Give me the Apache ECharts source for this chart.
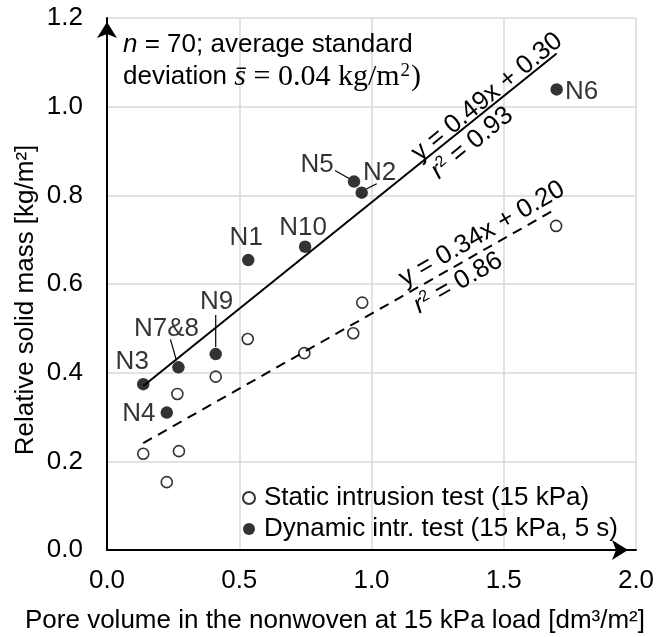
<!DOCTYPE html>
<html><head><meta charset="utf-8">
<script src="https://cdn.jsdelivr.net/npm/echarts@6/dist/echarts.min.js"></script>
<style>html,body{margin:0;padding:0;background:#fff}#c{width:665px;height:637px}</style>
</head><body><div id="c"></div>
<script>
// ---- data ----
const xTickLabels = ['0.0', '0.5', '1.0', '1.5', '2.0'];
const yTickLabels = ['0.0', '0.2', '0.4', '0.6', '0.8', '1.0', '1.2'];

const staticX = [0.137, 0.226, 0.266, 0.272, 0.411, 0.532, 0.746, 0.931, 0.965, 1.698];
const staticY = [0.217, 0.153, 0.352, 0.223, 0.391, 0.476, 0.444, 0.489, 0.558, 0.731];

const dynNames = ['N3', 'N4', 'N7&8', 'N9', 'N1', 'N10', 'N5', 'N2', 'N6'];
const dynX = [0.137, 0.226, 0.270, 0.411, 0.534, 0.749, 0.934, 0.963, 1.700];
const dynY = [0.374, 0.310, 0.412, 0.442, 0.654, 0.684, 0.831, 0.806, 1.039];

const fitDynX = [0.137, 1.700];
const fitDynY = [0.370, 1.120];
const fitStatX = [0.137, 1.700];
const fitStatY = [0.241, 0.770];

const seriesNames = ['Static intrusion test (15 kPa)', 'Dynamic intr. test (15 kPa, 5 s)'];

// ---- styling (label offsets in pixels) ----
const FONT = '"Liberation Sans", Arial, sans-serif';
const SERIF = '"Liberation Serif", "DejaVu Serif", serif';
const FS = 26;
const labelOffsets = {
  'N3': [-11, -22], 'N4': [-28, 1], 'N7&8': [-12, -39], 'N9': [1, -52],
  'N1': [-2, -22], 'N10': [-2, -19], 'N5': [-37, -17], 'N2': [18, -20], 'N6': [25, 2]
};
const leaders = {
  'N7&8': [[-8, -28], [-2, -7]],
  'N9': [[0, -39], [0, -7]],
  'N5': [[-19, -11], [-5, -3]],
  'N2': [[15, -9], [5, -4]]
};

const zip = (a, b) => a.map((v, i) => [v, b[i]]);

const chart = echarts.init(document.getElementById('c'), null, {renderer: 'canvas'});

const axisLineStyle = {color: '#000', width: 2};
const option = {
  animation: false,
  backgroundColor: '#fff',
  textStyle: {fontFamily: FONT},
  grid: {left: 107, right: 29, top: 18, bottom: 87, containLabel: false, outerBoundsMode: 'none'},
  xAxis: {
    type: 'value', min: 0, max: 2, interval: 0.5,
    axisLine: {show: true, onZero: false, lineStyle: axisLineStyle, symbol: ['none', 'arrow'], symbolSize: [15, 16], symbolOffset: [0, -8]},
    axisTick: {show: false},
    axisLabel: {fontSize: FS, color: '#000', margin: 18, fontFamily: FONT, formatter: (v, i) => xTickLabels[i]},
    splitLine: {show: true, lineStyle: {color: '#d9d9d9', width: 1.5}}
  },
  yAxis: {
    type: 'value', min: 0, max: 1.2, interval: 0.2,
    axisLine: {show: true, onZero: false, lineStyle: axisLineStyle, symbol: ['none', 'arrow'], symbolSize: [15, 16], symbolOffset: [0, -4]},
    axisTick: {show: false},
    axisLabel: {fontSize: FS, color: '#000', margin: 24, fontFamily: FONT, formatter: (v, i) => yTickLabels[i]},
    splitLine: {show: true, lineStyle: {color: '#d9d9d9', width: 1.5}}
  },
  legend: {
    data: seriesNames, orient: 'vertical', left: 237, top: 480,
    itemWidth: 12, itemHeight: 12, itemGap: 5,
    textStyle: {fontSize: FS, color: '#000', fontFamily: FONT, lineHeight: 26, padding: [0, 0, 0, 4]}
  },
  series: [
    {
      type: 'scatter', name: seriesNames[0], data: zip(staticX, staticY),
      symbol: 'circle', symbolSize: 11, z: 2,
      itemStyle: {color: 'rgba(255,255,255,0)', borderColor: '#000', borderWidth: 1.6}
    },
    {
      type: 'line', name: 'fitStatic', data: zip(fitStatX, fitStatY), symbol: 'none', z: 3,
      lineStyle: {color: '#000', width: 2, type: [10, 7]}, silent: true
    },
    {
      type: 'line', name: 'fitDynamic', data: zip(fitDynX, fitDynY), symbol: 'none', z: 3,
      lineStyle: {color: '#000', width: 2}, silent: true
    },
    {
      type: 'scatter', name: seriesNames[1],
      data: dynNames.map((n, i) => ({
        name: n, value: [dynX[i], dynY[i]],
        label: {show: true, position: 'inside', offset: labelOffsets[n], formatter: n}
      })),
      symbol: 'circle', symbolSize: 12.5, z: 4,
      itemStyle: {color: '#000'},
      label: {fontSize: FS, color: '#000', fontFamily: FONT}
    }
  ]
};
chart.setOption(option);

// ---- annotations ----
const g = [];
g.push({type: 'text', x: 335, y: 621, style: {text: 'Pore volume in the nonwoven at 15 kPa load [dm³/m²]', fontSize: FS, fontFamily: FONT, fill: '#000', align: 'center', verticalAlign: 'middle'}});
g.push({type: 'text', x: 26, y: 300, rotation: Math.PI / 2, style: {text: 'Relative solid mass [kg/m²]', fontSize: FS, fontFamily: FONT, fill: '#000', align: 'center', verticalAlign: 'middle'}});
g.push({type: 'text', x: 123, y: 45, style: {
  text: '{i|n}{r| = 70; average standard}', align: 'left', verticalAlign: 'middle', fill: '#000',
  rich: {i: {fontStyle: 'italic', fontSize: FS, fontFamily: FONT, fill: '#000'}, r: {fontSize: FS, fontFamily: FONT, fill: '#000'}}
}});
g.push({type: 'text', x: 123, y: 77, style: {
  text: '{r|deviation }{s|s\u0304}{m| = 0.04 kg/m}{sup|2}{m|)}', align: 'left', verticalAlign: 'middle', fill: '#000',
  rich: {
    r: {fontSize: FS, fontFamily: FONT, fill: '#000'},
    s: {fontSize: 30, fontFamily: SERIF, fontStyle: 'italic', fill: '#000'},
    m: {fontSize: 30, fontFamily: SERIF, fill: '#000'},
    sup: {fontSize: 19, fontFamily: SERIF, fill: '#000', verticalAlign: 'top', padding: [0, 1, 12, 1]}
  }
}});
const eq = (x, y, deg, text) => ({type: 'text', x, y, rotation: deg * Math.PI / 180, style: {
  text, align: 'center', verticalAlign: 'middle', fill: '#000',
  rich: {n: {fontSize: FS, fontFamily: FONT, fill: '#000'}, i: {fontSize: FS, fontFamily: FONT, fontStyle: 'italic', fill: '#000'}, sup: {fontSize: 16, fontFamily: FONT, fill: '#000', verticalAlign: 'top', padding: [0, 0, 10, 0]}}
}});
g.push(eq(487, 97, 39.4, '{n|y = 0.49x + 0.30}'));
g.push(eq(472, 143, 39.4, '{i|r}{sup|2}{n| = 0.93}'));
g.push(eq(482, 234, 30, '{n|y = 0.34x + 0.20}'));
g.push(eq(458, 283, 30, '{i|r}{sup|2}{n| = 0.86}'));

dynNames.forEach((n, i) => {
  if (!leaders[n]) return;
  const p = chart.convertToPixel({gridIndex: 0}, [dynX[i], dynY[i]]);
  const [a, b] = leaders[n];
  g.push({type: 'line', shape: {x1: p[0] + a[0], y1: p[1] + a[1], x2: p[0] + b[0], y2: p[1] + b[1]}, style: {stroke: '#000', lineWidth: 1.2}, z: 10});
});
chart.setOption({graphic: g});
</script>
</body></html>
